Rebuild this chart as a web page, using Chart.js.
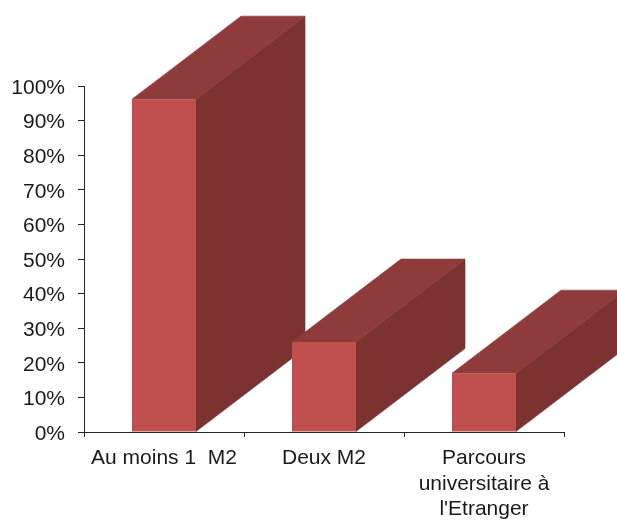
<!DOCTYPE html>
<html>
<head>
<meta charset="utf-8">
<title>Parcours</title>
<script src="https://cdn.jsdelivr.net/npm/chart.js@4"></script>
<style>
    html, body { margin: 0; padding: 0; background: #fff; }
    canvas { display: block; }
</style>
</head>
<body>
<canvas id="chart" width="617" height="520"></canvas>
<script>
const categories = [['Au moins 1  M2'], ['Deux M2'], ['Parcours', 'universitaire à', "l'Etranger"]];
const values = [96.2, 26, 17];

const DEPTH_X = 109;
const DEPTH_Y = 83;
const AXIS_COLOR = '#262626';
const TEXT_COLOR = '#1a1a1a';
const FONT = { family: '"Liberation Sans", Arial, sans-serif', size: 21 };

const fillPoly = (ctx, color, points) => {
    ctx.fillStyle = color;
    ctx.strokeStyle = color;
    ctx.lineWidth = 0.6; // hides the light seam between the faces
    ctx.beginPath();
    points.forEach(([x, y], i) => i ? ctx.lineTo(x, y) : ctx.moveTo(x, y));
    ctx.closePath();
    ctx.fill();
    ctx.stroke();
};

// side and top faces of each bar, taken from the bar element itself
const extrudeBars = {
    id: 'extrudeBars',
    afterLayout(chart) {
        // y labels sit a little lower than the tick in the original
        chart.scales.y.getLabelItems(chart.chartArea).forEach(item => {
            item.options.translation[1] += 2;
        });
    },
    beforeDatasetsDraw(chart) {
        const ctx = chart.ctx;
        ctx.save();
        chart.getDatasetMeta(0).data.forEach(bar => {
            const { x, y, base, width } = bar.getProps(['x', 'y', 'base', 'width'], true);
            const left = x - width / 2;
            const right = x + width / 2;
            fillPoly(ctx, '#7B3230', [[right, y], [right + DEPTH_X, y - DEPTH_Y], [right + DEPTH_X, base - DEPTH_Y], [right, base]]);
            fillPoly(ctx, '#8E3C3B', [[left, y], [left + DEPTH_X, y - DEPTH_Y], [right + DEPTH_X, y - DEPTH_Y], [right, y]]);
        });
        ctx.restore();
    }
};

new Chart(document.getElementById('chart'), {
    type: 'bar',
    data: {
        labels: categories,
        datasets: [{
            data: values,
            backgroundColor: '#C0504D',
            borderWidth: 0,
            categoryPercentage: 1,
            barPercentage: 0.4,
            clip: false
        }]
    },
    plugins: [extrudeBars],
    options: {
        responsive: false,
        animation: false,
        layout: { padding: { left: 0, right: 53, top: 86, bottom: 0 } },
        plugins: { legend: { display: false }, tooltip: { enabled: false } },
        scales: {
            x: {
                afterFit: scale => { scale.height = 88; },
                border: { color: AXIS_COLOR, width: 1, z: 1 },
                grid: { color: AXIS_COLOR, drawOnChartArea: false, tickLength: 5, z: 1 },
                ticks: { color: TEXT_COLOR, font: FONT, maxRotation: 0, autoSkip: false, padding: 9 }
            },
            y: {
                min: 0,
                max: 100,
                afterFit: scale => { scale.width = 84; },
                border: { color: AXIS_COLOR, width: 1, z: 1 },
                grid: { color: AXIS_COLOR, drawOnChartArea: false, tickLength: 6, z: 1 },
                ticks: {
                    stepSize: 10,
                    color: TEXT_COLOR,
                    font: FONT,
                    padding: 13,
                    callback: value => value + '%'
                }
            }
        }
    }
});
</script>
</body>
</html>
